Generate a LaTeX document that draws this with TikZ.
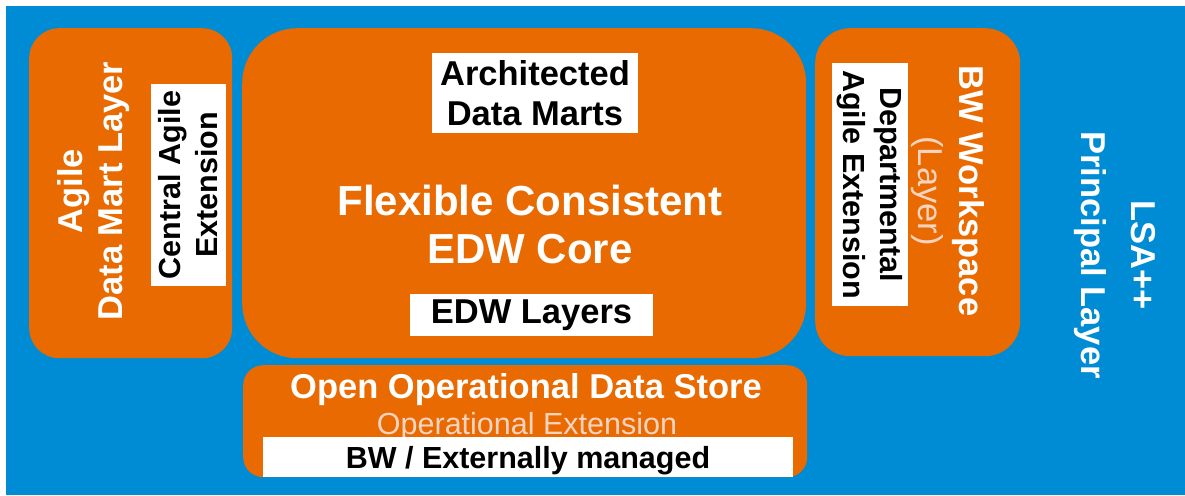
\documentclass[tikz,border=0pt]{standalone}
\usepackage{fontspec}
\setmainfont{Liberation Sans}
\usepackage{tikz}
\usetikzlibrary{positioning}

\definecolor{lsablue}{RGB}{0,139,213}
\definecolor{lsaorange}{RGB}{232,106,0}
\definecolor{paleorange}{RGB}{250,212,192}

\newcommand{\hugebold}{\fontsize{42}{48}\selectfont\bfseries}
\newcommand{\bigbold}{\fontsize{34.5}{40}\selectfont\bfseries}
\newcommand{\smallbold}{\fontsize{30.5}{37}\selectfont\bfseries}

\begin{document}
\begin{tikzpicture}[x=1pt,y=-1pt,
	layer/.style={fill=lsaorange,rounded corners=#1,anchor=north west,inner sep=0pt},
	extension/.style={fill=white,inner sep=0pt,align=center,text=black},
	caption/.style={text=white,align=center,inner sep=0pt}
]
	\fill[lsablue] (6,6) rectangle (1185,495);
	\useasboundingbox (0,0) rectangle (1185,495);
	\draw
		(29,28)   node[layer=30pt,minimum width=203pt,minimum height=330pt] (agile) {}
		(242,28)  node[layer=55pt,minimum width=564pt,minimum height=330pt] (core) {}
		(815,28)  node[layer=35pt,minimum width=205pt,minimum height=328pt] (workspace) {}
		(243,365) node[layer=20pt,minimum width=564pt,minimum height=112pt] (ods) {}

		(94,191)    node[caption,rotate=90,font=\bigbold]  (agiletext) {Agile\\Data Mart Layer}
		(188.5,185) node[extension,rotate=90,minimum width=202pt,minimum height=75pt,font=\smallbold] (central) {Central Agile\\Extension}

		(535,93)    node[extension,minimum width=206pt,minimum height=80pt,font=\bigbold] (marts) {Architected\\Data Marts}
		(530,224)   node[caption,font=\hugebold] (edwcore) {Flexible Consistent\\EDW Core}
		(531.5,315) node[extension,minimum width=243pt,minimum height=42pt,font=\bigbold] (edwlayers) {EDW Layers}

		(870,184.5) node[extension,rotate=-90,minimum width=243pt,minimum height=76pt,font=\smallbold] (departmental) {Departmental\\Agile Extension}
		(947.5,191) node[caption,rotate=-90,font=\fontsize{34.5}{41}\selectfont\bfseries] (bwtext) {BW Workspace\\{\color{paleorange}\mdseries (Layer)}}
		(1115,255)  node[caption,rotate=-90,font=\fontsize{34.5}{50}\selectfont\bfseries] (lsa) {LSA++\\Principal Layer}

		(526,390)   node[caption,font=\bigbold] (odstitle) {Open Operational Data Store}
		(527,427)   node[caption,text=paleorange,font=\fontsize{30.5}{36}\selectfont] (opext) {Operational Extension}
		(263,437)   node[fill=white,anchor=north west,minimum width=530pt,minimum height=40pt,inner sep=0pt] (strip) {}
		(528,461)   node[font=\smallbold] (external) {BW / Externally managed}
	;
\end{tikzpicture}
\end{document}
